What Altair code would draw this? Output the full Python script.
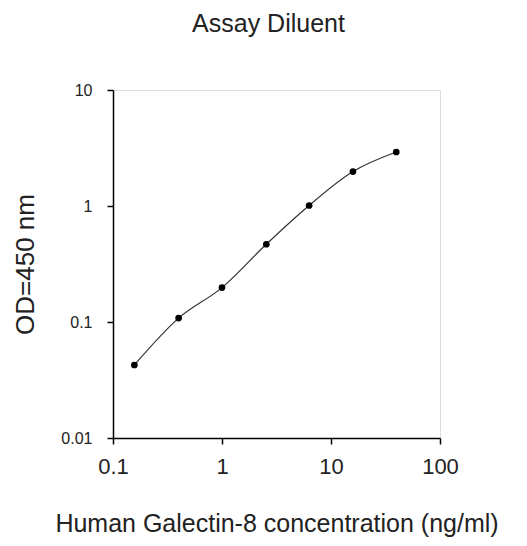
import altair as alt
import pandas as pd

concentration = [0.157, 0.40, 1.0, 2.55, 6.3, 15.9, 39.7]
od450 = [0.0426, 0.108, 0.198, 0.468, 1.01, 1.98, 2.92]
x_ticks = [0.1, 1, 10, 100]
y_ticks = [0.01, 0.1, 1, 10]

df = pd.DataFrame({"conc": concentration, "od": od450})

FONT = "Liberation Sans"

x_enc = alt.X(
    "conc:Q",
    scale=alt.Scale(type="log", domain=[0.1, 100]),
    axis=alt.Axis(
        values=x_ticks, format="~g", grid=False,
        title="Human Galectin-8 concentration (ng/ml)",
        labelFont=FONT, labelFontSize=22, labelColor="#222", labelPadding=12,
        labelFlush=False, labelOverlap=False,
        titleFont=FONT, titleFontSize=25, titleFontWeight="normal", titleColor="#222",
        titleY=93, titleBaseline="alphabetic",
        tickSize=6, tickColor="black", tickWidth=1.5,
        domainColor="black", domainWidth=1.5,
    ),
)
y_enc = alt.Y(
    "od:Q",
    scale=alt.Scale(type="log", domain=[0.01, 10]),
    axis=alt.Axis(
        values=y_ticks, format="~g", grid=False,
        title="OD=450 nm",
        labelFont=FONT, labelFontSize=16, labelColor="#222", labelPadding=15,
        labelFlush=False, labelOverlap=False,
        titleFont=FONT, titleFontSize=26, titleFontWeight="normal", titleColor="#222",
        titleX=-80, titleBaseline="alphabetic",
        tickSize=6, tickColor="black", tickWidth=1.5,
        domainColor="black", domainWidth=1.5,
    ),
)

line = alt.Chart(df).mark_line(color="#333", strokeWidth=1.2, interpolate="monotone").encode(x=x_enc, y=y_enc)
pts = alt.Chart(df).mark_point(filled=True, shape="circle", size=45, color="black", opacity=1).encode(x=x_enc, y=y_enc)

chart = (
    (line + pts)
    .properties(
        width=327,
        height=348,
        title=alt.TitleParams(
            "Assay Diluent", font=FONT, fontSize=25, fontWeight="normal", color="#222",
            frame="group", anchor="middle", baseline="alphabetic", offset=25, dx=-8,
        ),
        autosize=alt.AutoSizeParams(type="none"),
        padding={"left": 105, "top": 82, "right": 79, "bottom": 100},
    )
    .configure_view(stroke="black", strokeWidth=1.5)
    .configure(background="white")
)

chart.save("out.html", embed_options={"renderer": "svg", "actions": False})
